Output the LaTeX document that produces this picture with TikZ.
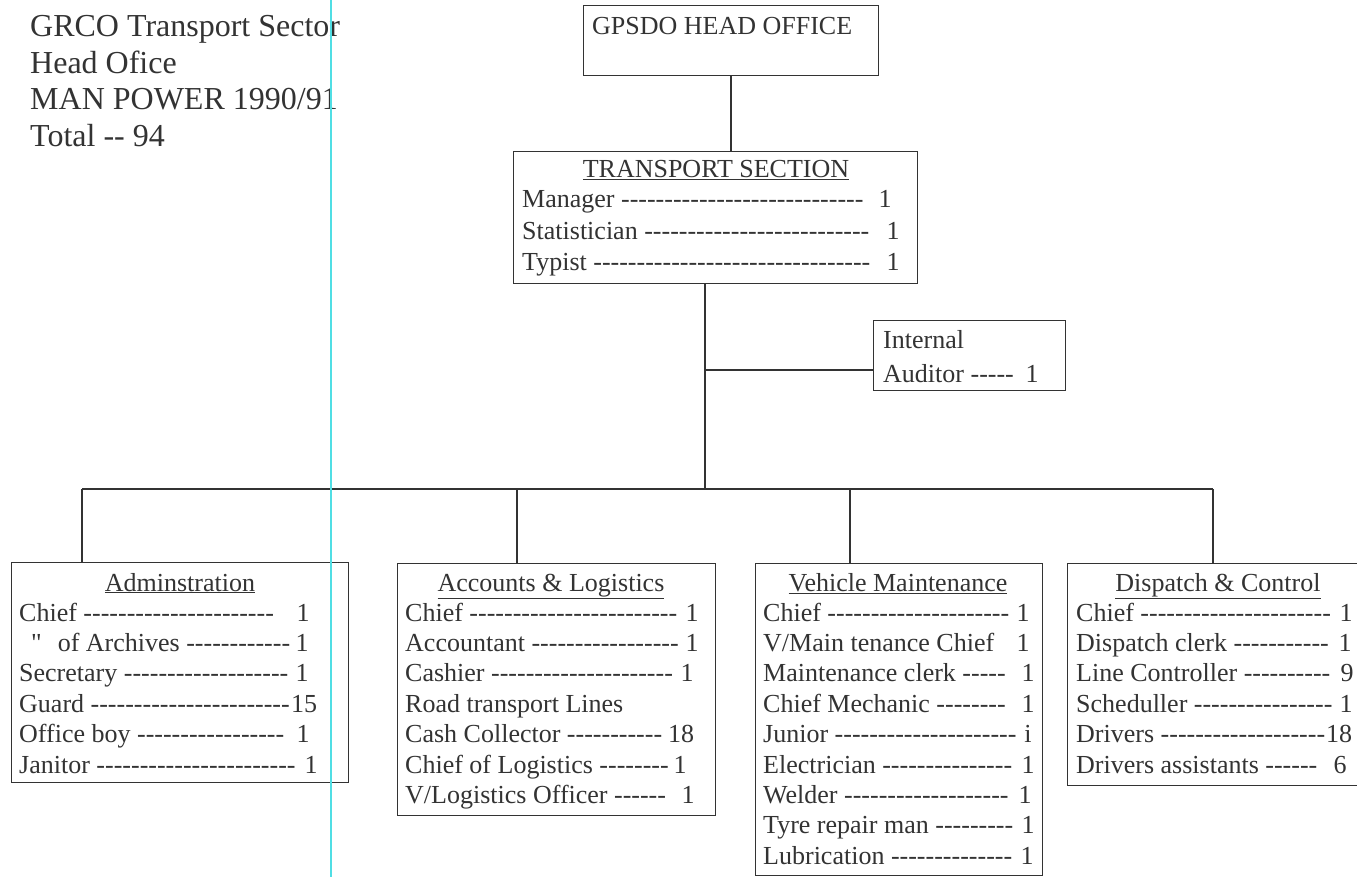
\documentclass[tikz,border=0pt]{standalone}
\usepackage{fontspec}
\setmainfont{Liberation Serif}[Ligatures=TeXOff]
\ExplSyntaxOn
\cs_new:Npn \dashrun #1 { \prg_replicate:nn {#1} {-} }
\ExplSyntaxOff
\definecolor{ink}{HTML}{333333}
\definecolor{guide}{RGB}{80,222,228}
% one staffing line: label with its dash run, and the head count
\newcommand\entry[6]{%
  \node[txt,anchor=base west] (#1) at (#2,#3) {#4};
  \node[txt,anchor=base] (#1-n) at (#5,#3) {#6};}
\begin{document}
\begin{tikzpicture}[x=1pt,y=-1pt,
  box/.style={draw=ink,line width=1.3pt,rectangle,inner sep=0pt,anchor=north west},
  txt/.style={inner sep=0pt,text=ink,font=\fontsize{26}{30}\selectfont},
  hdr/.style={inner sep=0pt,text=ink,font=\fontsize{32}{36}\selectfont,anchor=base west},
  link/.style={draw=ink,line width=1.3pt}]
\clip (0,0) rectangle (1357,877);
\fill[white] (0,0) rectangle (1357,877);

% title block
\node[hdr] (h1) at (30,37) {GRCO Transport Sector};
\node[hdr] (h2) at (30,73.5) {Head Ofice};
\node[hdr] (h3) at (30,110) {MAN POWER 1990/91};
\node[hdr] (h4) at (30,146.5) {Total -- 94};

% head office
\node[box,minimum width=295pt,minimum height=70pt] (head) at (583,5) {};
\node[txt,anchor=base west] (headt) at (592,35) {GPSDO HEAD OFFICE};

% transport section
\node[box,minimum width=404pt,minimum height=132pt] (ts) at (513,151) {};
\node[txt,anchor=base] (tst) at (716,178) {\underline{TRANSPORT SECTION}};
\entry{ts1}{522}{208}{Manager \dashrun{28}}{885}{1}
\entry{ts2}{522}{239.5}{Statistician \dashrun{26}}{893}{1}
\entry{ts3}{522}{271}{Typist \dashrun{32}}{893}{1}

% internal auditor
\node[box,minimum width=192pt,minimum height=70pt] (aud) at (873,320) {};
\node[txt,anchor=base west] (aud1) at (883,348) {Internal};
\entry{aud2}{883}{382}{Auditor \dashrun{5}}{1032}{1}

% departments
\node[box,minimum width=337pt,minimum height=220pt] (adm) at (11,562) {};
\node[box,minimum width=318pt,minimum height=252pt] (acc) at (397,563) {};
\node[box,minimum width=287pt,minimum height=312pt] (veh) at (755,563) {};
\node[box,minimum width=300pt,minimum height=222pt] (dis) at (1067,563) {};

\node[txt,anchor=base] (admt) at (180,591) {\underline{Adminstration}};
\entry{a1}{19}{621}{Chief \dashrun{22}}{303}{1}
\entry{a2}{19}{651.4}{\hspace*{12pt}"\hspace{16pt}of Archives \dashrun{12}}{302}{1}
\entry{a3}{19}{681.8}{Secretary \dashrun{19}}{302}{1}
\entry{a4}{19}{712.2}{Guard \dashrun{23}}{304}{15}
\entry{a5}{19}{742.6}{Office boy \dashrun{17}}{303}{1}
\entry{a6}{19}{773}{Janitor \dashrun{23}}{311}{1}

\node[txt,anchor=base] (acct) at (551,591) {\underline{Accounts \& Logistics}};
\entry{c1}{405}{621}{Chief \dashrun{24}}{692}{1}
\entry{c2}{405}{651.4}{Accountant \dashrun{17}}{692}{1}
\entry{c3}{405}{681.8}{Cashier \dashrun{21}}{687}{1}
\node[txt,anchor=base west] (c4) at (405,712.2) {Road transport Lines};
\entry{c5}{405}{742.6}{Cash Collector \dashrun{11}}{681}{18}
\entry{c6}{405}{773}{Chief of Logistics \dashrun{8}}{680}{1}
\entry{c7}{405}{803.4}{V/Logistics Officer \dashrun{6}}{688}{1}

\node[txt,anchor=base] (veht) at (898,591) {\underline{Vehicle Maintenance}};
\entry{v1}{763}{621}{Chief \dashrun{21}}{1023}{1}
\entry{v2}{763}{651.4}{V/Main tenance Chief}{1023}{1}
\entry{v3}{763}{681.8}{Maintenance clerk \dashrun{5}}{1028}{1}
\entry{v4}{763}{712.2}{Chief Mechanic \dashrun{8}}{1028}{1}
\entry{v5}{763}{742.6}{Junior \dashrun{21}}{1028}{i}
\entry{v6}{763}{773}{Electrician \dashrun{15}}{1028}{1}
\entry{v7}{763}{803.4}{Welder \dashrun{19}}{1025}{1}
\entry{v8}{763}{833.8}{Tyre repair man \dashrun{9}}{1028}{1}
\entry{v9}{763}{864.2}{Lubrication \dashrun{14}}{1027}{1}

\node[txt,anchor=base] (dist) at (1218,591) {\underline{Dispatch \& Control}};
\entry{d1}{1076}{621}{Chief \dashrun{22}}{1346}{1}
\entry{d2}{1076}{651.4}{Dispatch clerk \dashrun{11}}{1345}{1}
\entry{d3}{1076}{681.8}{Line Controller \dashrun{10}}{1347}{9}
\entry{d4}{1076}{712.2}{Scheduller \dashrun{16}}{1346}{1}
\entry{d5}{1076}{742.6}{Drivers \dashrun{19}}{1339}{18}
\entry{d6}{1076}{773}{Drivers assistants \dashrun{6}}{1340}{6}

% connectors
\coordinate (hx) at (731,0);
\coordinate (bus) at (705,489);
\coordinate (audj) at (705,370);
\coordinate (b1) at (82,489);
\coordinate (b2) at (517,489);
\coordinate (b3) at (850,489);
\coordinate (b4) at (1213,489);
\draw[link] (head.south -| hx) -- (ts.north -| hx);
\draw[link] (ts.south -| bus) -- (bus);
\draw[link] (audj) -- (audj -| aud.west);
\draw[link] (b1) -- (b4);
\draw[link] (b1) -- (b1 |- adm.north);
\draw[link] (b2) -- (b2 |- acc.north);
\draw[link] (b3) -- (b3 |- veh.north);
\draw[link] (b4) -- (b4 |- dis.north);

% margin guide
\draw[guide,line width=1.6pt] (331,0) -- (331,877);
\end{tikzpicture}
\end{document}
